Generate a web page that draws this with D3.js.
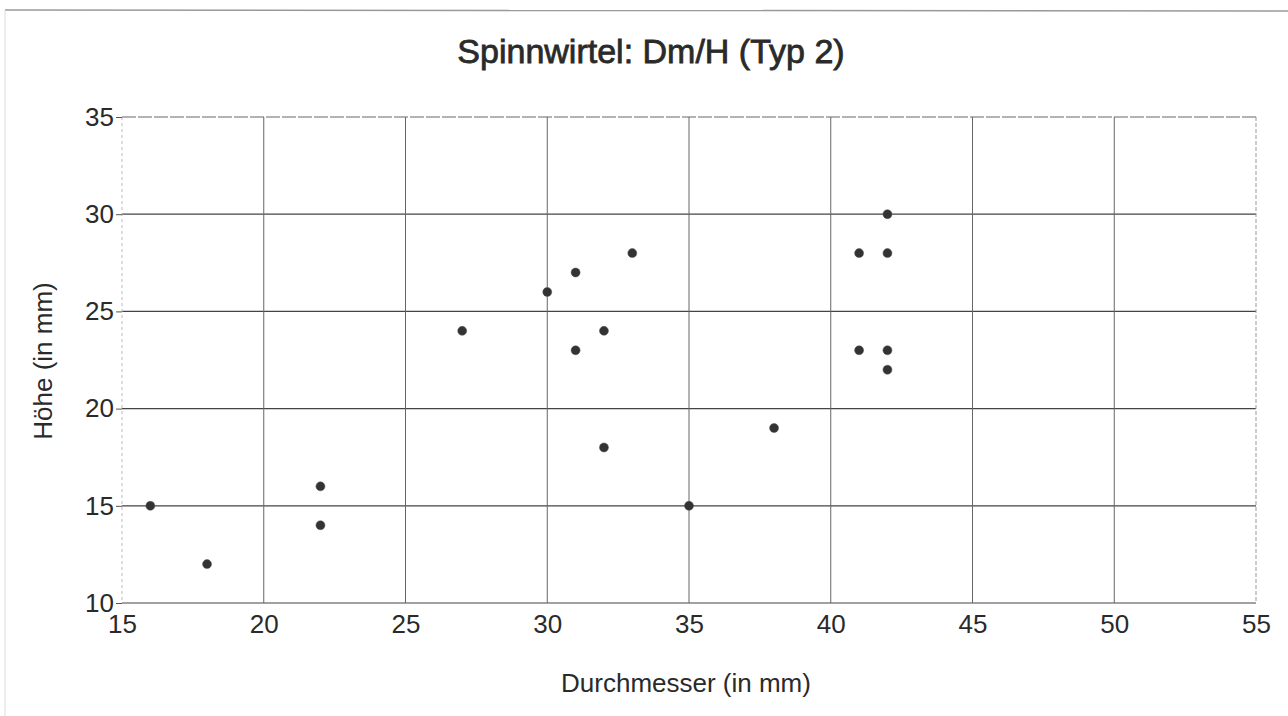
<!DOCTYPE html>
<html>
<head>
<meta charset="utf-8">
<script src="https://cdn.jsdelivr.net/npm/d3@7"></script>
<style>
  body { margin: 0; background: #fff; }
  svg { font-family: "Liberation Sans", Arial, sans-serif; }
</style>
</head>
<body>
<svg class="chart"></svg>
<script>
const width = 1288,
  height = 716;
const margin = { left: 122, right: 32, top: 117, bottom: 113 };

// Durchmesser (x) und Höhe (y) der Spinnwirtel
const durchmesser = [16, 18, 22, 22, 27, 30, 31, 31, 32, 32, 33, 35, 38, 41, 41, 42, 42, 42, 42];
const hoehe = [15, 12, 16, 14, 24, 26, 27, 23, 24, 18, 28, 15, 19, 28, 23, 30, 28, 23, 22];
const xTicks = [15, 20, 25, 30, 35, 40, 45, 50, 55];
const yTicks = [10, 15, 20, 25, 30, 35];

let x = d3.scaleLinear()
  .domain([15, 55])
  .range([margin.left, width - margin.right]);
let y = d3.scaleLinear()
  .domain([10, 35])
  .range([height - margin.bottom, margin.top]);

let chart = d3.select(".chart")
  .attr("width", width)
  .attr("height", height);

// outer frame of the scan
chart.append("line")
  .attr("x1", 5).attr("x2", width).attr("y1", 10).attr("y2", 11)
  .attr("stroke", "#999").attr("stroke-width", 1.5);
chart.append("line")
  .attr("x1", 5).attr("x2", 5).attr("y1", 10).attr("y2", height)
  .attr("stroke", "#ddd").attr("stroke-width", 1);

// grid
chart.append("g")
  .selectAll("line")
  .data(yTicks.slice(0, -1))
  .enter().append("line")
  .attr("x1", x(15)).attr("x2", x(55))
  .attr("y1", d => y(d)).attr("y2", d => y(d))
  .attr("stroke", "#444").attr("stroke-width", 1.2);
chart.append("g")
  .selectAll("line")
  .data(xTicks.slice(1, -1))
  .enter().append("line")
  .attr("x1", d => x(d)).attr("x2", d => x(d))
  .attr("y1", y(35)).attr("y2", y(10))
  .attr("stroke", "#666").attr("stroke-width", 1);

// plot border (top, left, right)
chart.append("line")
  .attr("x1", x(15)).attr("x2", x(55)).attr("y1", y(35)).attr("y2", y(35))
  .attr("stroke", "#666").attr("stroke-width", 1.2).attr("stroke-dasharray", "14,2");
chart.append("line")
  .attr("x1", x(15)).attr("x2", x(15)).attr("y1", y(35)).attr("y2", y(10))
  .attr("stroke", "#bbb").attr("stroke-width", 1).attr("stroke-dasharray", "3,3");
chart.append("line")
  .attr("x1", x(55)).attr("x2", x(55)).attr("y1", y(35)).attr("y2", y(10))
  .attr("stroke", "#999").attr("stroke-width", 1).attr("stroke-dasharray", "4,2");

// axes
let xAxis = d3.axisBottom(x).tickValues(xTicks).tickSize(0).tickPadding(12);
let yAxis = d3.axisLeft(y).tickValues(yTicks).tickSize(6).tickPadding(2);

chart.append("g")
  .attr("transform", `translate(0, ${y(10)})`)
  .call(xAxis)
  .call(g => g.select(".domain").remove())
  .selectAll("text")
  .attr("font-size", 26).attr("fill", "#2a2a2a")
  .attr("font-family", "Liberation Sans, Arial, sans-serif");

chart.append("g")
  .attr("transform", `translate(${x(15)}, 0)`)
  .call(yAxis)
  .call(g => g.select(".domain").remove())
  .call(g => g.selectAll("line").attr("stroke", "#555"))
  .selectAll("text")
  .attr("font-size", 26).attr("fill", "#2a2a2a")
  .attr("font-family", "Liberation Sans, Arial, sans-serif");

// points
chart.append("g")
  .selectAll("circle")
  .data(durchmesser.map((d, i) => [d, hoehe[i]]))
  .enter().append("circle")
  .attr("cx", d => x(d[0]))
  .attr("cy", d => y(d[1]))
  .attr("r", 4.5)
  .attr("fill", "#333")
  .attr("stroke", "#555")
  .attr("stroke-width", 0.5);

// labels
chart.append("text")
  .attr("x", 651).attr("y", 63)
  .attr("text-anchor", "middle")
  .attr("font-size", 34).attr("fill", "#2a2a2a")
  .attr("stroke", "#2a2a2a").attr("stroke-width", 0.8)
  .text("Spinnwirtel: Dm/H (Typ 2)");

chart.append("text")
  .attr("x", 686).attr("y", 692)
  .attr("text-anchor", "middle")
  .attr("font-size", 26).attr("fill", "#2a2a2a")
  .text("Durchmesser (in mm)");

chart.append("text")
  .attr("transform", "translate(52, 361) rotate(-90)")
  .attr("text-anchor", "middle")
  .attr("font-size", 26).attr("fill", "#2a2a2a")
  .text("Höhe (in mm)");
</script>
</body>
</html>
